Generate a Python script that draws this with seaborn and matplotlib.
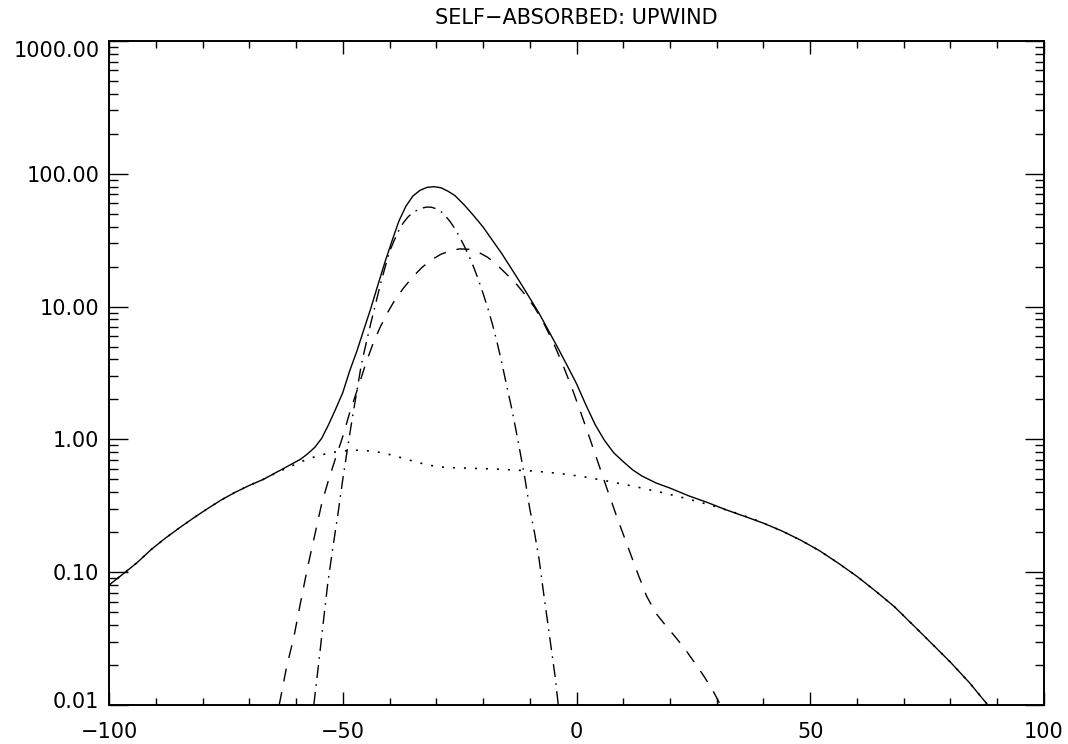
import numpy as np
import pandas as pd
import seaborn as sns
import matplotlib
matplotlib.use("Agg")
import matplotlib.pyplot as plt
import matplotlib.ticker as mticker
import matplotlib.transforms as mtransforms

# values (x = velocity, y = intensity, log scale)
total_x = [-100, -97, -94, -91, -88, -85, -82, -79, -76, -73, -70, -67, -64, -61, -59,
           -57.5, -56, -54.5, -53, -51.5, -50, -48.5, -47, -45.5, -44, -42.5, -41, -39.5,
           -38, -36.5, -35, -33.5, -32, -30.5, -29, -27.5, -26, -24, -22, -20, -18, -16,
           -14, -12, -10, -8, -6, -4, -2, 0, 2, 4, 6, 8, 10, 12, 14, 17, 20, 24, 28, 32,
           36, 40, 44, 48, 52, 56, 60, 64, 68, 72, 76, 80, 84, 88]
total_y = [0.080, 0.097, 0.118, 0.148, 0.18, 0.215, 0.255, 0.30, 0.35, 0.40, 0.45, 0.50,
           0.57, 0.65, 0.71, 0.78, 0.87, 1.02, 1.30, 1.70, 2.25, 3.3, 4.6, 6.7, 9.7, 14.5,
           21.5, 31, 44, 57, 68, 75, 79, 80, 78.5, 74, 68.5, 58.2, 48.4, 39.8, 31.6, 25.1,
           19.5, 15.1, 11.6, 8.9, 6.6, 4.9, 3.6, 2.63, 1.82, 1.29, 0.98, 0.79, 0.68, 0.59,
           0.53, 0.47, 0.43, 0.376, 0.335, 0.295, 0.263, 0.234, 0.204, 0.174, 0.145, 0.117,
           0.093, 0.072, 0.055, 0.040, 0.029, 0.021, 0.0148, 0.0100]

broad_x = [-100, -97, -94, -91, -88, -85, -82, -79, -76, -73, -70, -67, -64, -61, -58,
           -55, -52, -49, -46, -43, -40, -37, -34, -31, -28, -25, -22, -18, -14, -10, -6,
           -2, 2, 6, 10, 14, 18, 22, 26, 30, 34, 38, 40, 44, 48, 52, 56, 60, 64, 68, 72,
           76, 80, 84, 88]
broad_y = [0.080, 0.097, 0.118, 0.148, 0.18, 0.215, 0.255, 0.30, 0.35, 0.40, 0.45, 0.50,
           0.565, 0.63, 0.70, 0.76, 0.80, 0.825, 0.83, 0.81, 0.77, 0.72, 0.67, 0.635, 0.615,
           0.61, 0.605, 0.60, 0.59, 0.58, 0.565, 0.545, 0.52, 0.49, 0.46, 0.43, 0.40, 0.37,
           0.34, 0.31, 0.28, 0.25, 0.234, 0.204, 0.174, 0.145, 0.117, 0.093, 0.072, 0.055,
           0.040, 0.029, 0.021, 0.0148, 0.0100]

narrow1_x = [-63.6, -62, -60.5, -59, -57.5, -56, -54.5, -53, -51.5, -50, -48.5, -46.5,
             -45, -43.5, -42, -40.5, -39, -37, -35, -33, -31, -29, -27, -25, -23, -21, -19,
             -17, -15, -13, -11, -9, -7, -5, -3, -1, 1, 3, 5, 7, 9, 11, 13, 15, 17, 19, 21,
             23, 25, 27, 29, 30.8]
narrow1_y = [0.0100, 0.0195, 0.032, 0.060, 0.11, 0.19, 0.33, 0.50, 0.73, 1.05, 1.6, 2.6,
             3.8, 5.3, 7.0, 8.9, 11.0, 13.8, 16.8, 19.8, 22.5, 24.8, 26.3, 27.2, 27.0, 25.7,
             23.5, 20.6, 17.6, 15.0, 12.3, 9.9, 7.5, 5.4, 3.7, 2.45, 1.56, 0.98, 0.61, 0.38,
             0.24, 0.155, 0.10, 0.066, 0.049, 0.040, 0.033, 0.027, 0.0215, 0.017, 0.0132,
             0.0100]

narrow2_x = [-56.2, -55.2, -54.2, -53.2, -52.1, -51, -50, -49, -48, -47, -46, -45, -44,
             -43, -42, -41, -40, -39, -38, -37, -36, -35, -34, -33, -32, -31, -30, -29,
             -28, -27, -26, -25, -24, -23, -22, -21, -20, -19, -18, -17, -16, -15, -14,
             -13, -12, -11, -10, -9, -8, -7, -6, -5, -4.6, -3.9]
narrow2_y = [0.0100, 0.020, 0.041, 0.083, 0.155, 0.28, 0.50, 0.85, 1.42, 2.3, 3.7, 5.3,
             7.5, 10.4, 14.5, 19.5, 26.0, 31.5, 37.5, 43, 47.5, 51, 53.5, 55.2, 56.2, 56,
             54.5, 52, 48, 43.5, 38.5, 33.5, 28.5, 24, 19.8, 16, 12.6, 9.8, 7.4, 5.4, 3.8,
             2.6, 1.8, 1.2, 0.78, 0.50, 0.30, 0.20, 0.125, 0.068, 0.038, 0.021, 0.0166,
             0.0100]

y_ticks = [0.01, 0.1, 1, 10, 100, 1000]
x_ticks = [-100, -50, 0, 50, 100]
x_labels = ["\u2212100", "\u221250", "0", "50", "100"]

sns.set_style("white")
plt.rcParams["font.family"] = ["DejaVu Sans"]
plt.rcParams["text.color"] = "black"
plt.rcParams["xtick.color"] = "black"
plt.rcParams["ytick.color"] = "black"
plt.rcParams["xtick.labelcolor"] = "black"
plt.rcParams["ytick.labelcolor"] = "black"

fig = plt.figure(figsize=(10.68, 7.44), dpi=100)
ax = fig.add_axes([0.1021, 0.0524, 0.8754, 0.8925])

curves = [
    (total_x, total_y, "-", 1.0),
    (broad_x, broad_y, (0, (1.2, 5.4)), 1.2),
    (narrow1_x, narrow1_y, (0, (9.4, 7.9)), 1.0),
    (narrow2_x, narrow2_y, (0, (9.4, 4.5, 1.2, 4.5)), 1.0),
]
for xs, ys, ls, lw in curves:
    df = pd.DataFrame({"x": xs, "y": ys})
    sns.lineplot(data=df, x="x", y="y", ax=ax, color="black", linewidth=lw,
                 linestyle=ls, sort=False, estimator=None)

ax.set_yscale("log")
ax.set_xlim(-100, 100)
ax.set_ylim(0.01, 1000)
ax.set_xlabel("")
ax.set_ylabel("")

ax.set_xticks(x_ticks)
ax.set_xticklabels(x_labels)
ax.xaxis.set_minor_locator(mticker.MultipleLocator(10))
ax.set_yticks(y_ticks)
ax.yaxis.set_major_formatter(mticker.FuncFormatter(lambda v, p: "%.2f" % v))
ax.yaxis.set_minor_locator(mticker.LogLocator(base=10, subs=np.arange(2, 10)))
ax.yaxis.set_minor_formatter(mticker.NullFormatter())

ax.tick_params(axis="x", which="major", direction="in", length=9.6, width=1.0,
               top=True, bottom=True, labelsize=15, pad=12)
ax.tick_params(axis="x", which="minor", direction="in", length=4.8, width=1.0,
               top=True, bottom=True)
ax.tick_params(axis="y", which="major", direction="in", length=13.5, width=1.0,
               left=True, right=True, labelsize=15, pad=7)
ax.tick_params(axis="y", which="minor", direction="in", length=6.7, width=1.0,
               left=True, right=True)

for sp in ax.spines.values():
    sp.set_linewidth(1.4)
    sp.set_color("black")

# IDL nudges the end labels inside the axis range
ylabs = ax.get_yticklabels()
ylabs[-1].set_transform(ylabs[-1].get_transform() +
                        mtransforms.ScaledTranslation(0, -8 / 100, fig.dpi_scale_trans))
ylabs[0].set_transform(ylabs[0].get_transform() +
                       mtransforms.ScaledTranslation(0, 5 / 100, fig.dpi_scale_trans))

ax.set_title("SELF\u2212ABSORBED: UPWIND", fontsize=15, pad=12, color="black")

fig.savefig("out.png", dpi=100)
